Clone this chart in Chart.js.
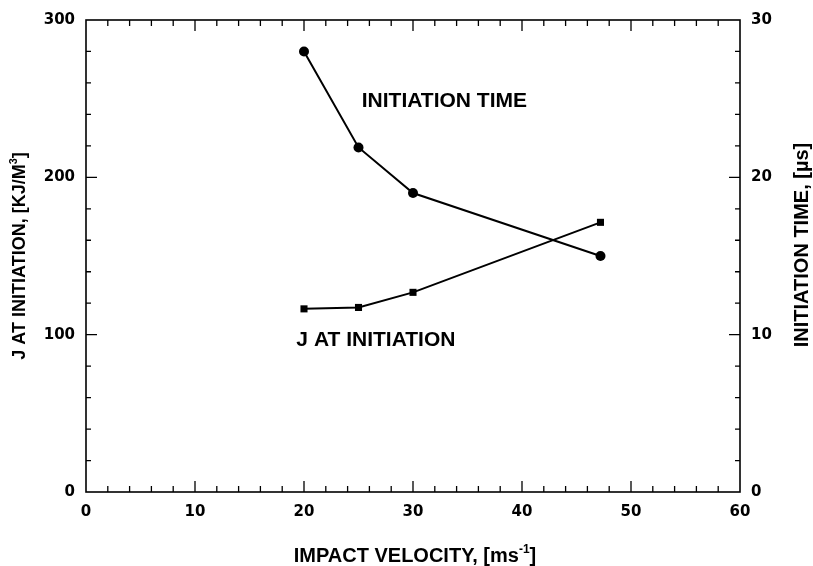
<!DOCTYPE html>
<html lang="en">
<head>
    <meta charset="UTF-8">
    <title>J and Initiation Time vs Impact Velocity</title>
    <style>
        body {
            margin: 0;
            background: #ffffff;
        }

        .chart-box {
            width: 813px;
            height: 566px;
            position: relative;
        }
    </style>
</head>
<body>
    <div class="chart-box">
        <canvas id="jChart"></canvas>
    </div>
    <script src="https://cdn.jsdelivr.net/npm/chart.js"></script>
    <script>
        // measured points
        var velocity = [20, 25, 30, 47.2];
        var jInitiation = [116.4, 117.3, 126.9, 171.4];
        var initiationTime = [28, 21.9, 19, 15];

        var TICK_FONT = { family: '"DejaVu Sans"', size: 15, weight: 'bold' };
        var LABEL_FAMILY = '"Liberation Sans", Arial, sans-serif';

        function toPoints(xs, ys) {
            return xs.map(function (x, i) { return { x: x, y: ys[i] }; });
        }

        function fixedSize(prop, size) {
            return function (scale) { scale[prop] = size; };
        }

        // box round the plot with inward minor/major ticks on all four sides
        var frameTicks = {
            id: 'frameTicks',
            beforeDatasetsDraw: function (chart) {
                var ctx = chart.ctx;
                var a = chart.chartArea;
                var s = chart.scales;
                var v, p, len;
                ctx.save();
                ctx.strokeStyle = '#000';
                ctx.lineWidth = 1.6;
                ctx.strokeRect(a.left, a.top, a.right - a.left, a.bottom - a.top);
                ctx.lineWidth = 1.3;
                ctx.beginPath();
                for (v = 2; v < 60; v += 2) {
                    p = s.x.getPixelForValue(v);
                    len = v % 10 === 0 ? 11 : 6;
                    ctx.moveTo(p, a.bottom); ctx.lineTo(p, a.bottom - len);
                    ctx.moveTo(p, a.top); ctx.lineTo(p, a.top + len);
                }
                for (v = 20; v < 300; v += 20) {
                    p = s.y.getPixelForValue(v);
                    len = v % 100 === 0 ? 11 : 5;
                    ctx.moveTo(a.left, p); ctx.lineTo(a.left + len, p);
                }
                for (v = 2; v < 30; v += 2) {
                    p = s.y2.getPixelForValue(v);
                    len = v % 10 === 0 ? 11 : 5;
                    ctx.moveTo(a.right, p); ctx.lineTo(a.right - len, p);
                }
                ctx.stroke();
                ctx.restore();
            }
        };

        // draws a run of text pieces, some of them raised and smaller
        function drawRich(ctx, parts, size) {
            var widths = parts.map(function (part) {
                ctx.font = 'bold ' + (part.sup ? size * 0.6 : size) + 'px ' + LABEL_FAMILY;
                return ctx.measureText(part.t).width;
            });
            var total = widths.reduce(function (s, w) { return s + w; }, 0);
            var x = -total / 2;
            parts.forEach(function (part, i) {
                ctx.font = 'bold ' + (part.sup ? size * 0.6 : size) + 'px ' + LABEL_FAMILY;
                ctx.fillText(part.t, x, part.sup ? -size * 0.45 : 0);
                x += widths[i];
            });
        }

        var axisTitles = {
            id: 'axisTitles',
            afterDraw: function (chart) {
                var ctx = chart.ctx;
                var a = chart.chartArea;
                var s = chart.scales;
                ctx.save();
                ctx.fillStyle = '#000';
                ctx.textAlign = 'left';
                ctx.textBaseline = 'alphabetic';

                ctx.save();
                ctx.translate((a.left + a.right) / 2 + 2, 562);
                drawRich(ctx, [{ t: 'IMPACT VELOCITY, [ms' }, { t: '-1', sup: true }, { t: ']' }], 20);
                ctx.restore();

                ctx.save();
                ctx.translate(25, 256);
                ctx.rotate(-Math.PI / 2);
                drawRich(ctx, [{ t: 'J AT INITIATION, [KJ/M' }, { t: '3', sup: true }, { t: ']' }], 18);
                ctx.restore();

                ctx.save();
                ctx.translate(808, 245);
                ctx.rotate(-Math.PI / 2);
                drawRich(ctx, [{ t: 'INITIATION TIME, [\u00b5s]' }], 20);
                ctx.restore();

                // curve labels inside the plot
                ctx.font = 'bold 21px ' + LABEL_FAMILY;
                ctx.textBaseline = 'middle';
                ctx.fillText('INITIATION TIME', s.x.getPixelForValue(25.3), s.y.getPixelForValue(248.7));
                ctx.fillText('J AT INITIATION', s.x.getPixelForValue(19.3), s.y.getPixelForValue(96.2));
                ctx.restore();
            }
        };

        var ctxJ = document.getElementById('jChart').getContext('2d');

        var jChart = new Chart(ctxJ, {
            type: 'scatter',
            data: {
                datasets: [{
                    label: 'Initiation time',
                    data: toPoints(velocity, initiationTime),
                    yAxisID: 'y2',
                    showLine: true,
                    borderColor: '#000',
                    backgroundColor: '#000',
                    borderWidth: 2,
                    pointStyle: 'circle',
                    pointRadius: 5,
                    pointBorderWidth: 0
                }, {
                    label: 'J at initiation',
                    data: toPoints(velocity, jInitiation),
                    yAxisID: 'y',
                    showLine: true,
                    borderColor: '#000',
                    backgroundColor: '#000',
                    borderWidth: 2,
                    pointStyle: 'rect',
                    pointRadius: 5,
                    pointBorderWidth: 0
                }]
            },
            options: {
                responsive: true,
                maintainAspectRatio: false,
                animation: false,
                layout: {
                    padding: { top: 12, left: 0, right: 0, bottom: 0 }
                },
                plugins: {
                    legend: { display: false },
                    tooltip: { enabled: false }
                },
                scales: {
                    x: {
                        type: 'linear',
                        position: 'bottom',
                        min: 0,
                        max: 60,
                        grid: { display: false, drawTicks: false },
                        border: { display: false },
                        ticks: { stepSize: 10, padding: 11, color: '#000', font: TICK_FONT, maxRotation: 0 },
                        afterFit: fixedSize('height', 74)
                    },
                    y: {
                        position: 'left',
                        min: 0,
                        max: 300,
                        grid: { display: false, drawTicks: false },
                        border: { display: false },
                        ticks: { stepSize: 100, padding: 11, color: '#000', font: TICK_FONT },
                        afterFit: fixedSize('width', 86)
                    },
                    y2: {
                        position: 'right',
                        min: 0,
                        max: 30,
                        grid: { display: false, drawTicks: false },
                        border: { display: false },
                        ticks: { stepSize: 10, padding: 11, color: '#000', font: TICK_FONT },
                        afterFit: fixedSize('width', 73)
                    }
                }
            },
            plugins: [frameTicks, axisTitles]
        });
    </script>
</body>
</html>
